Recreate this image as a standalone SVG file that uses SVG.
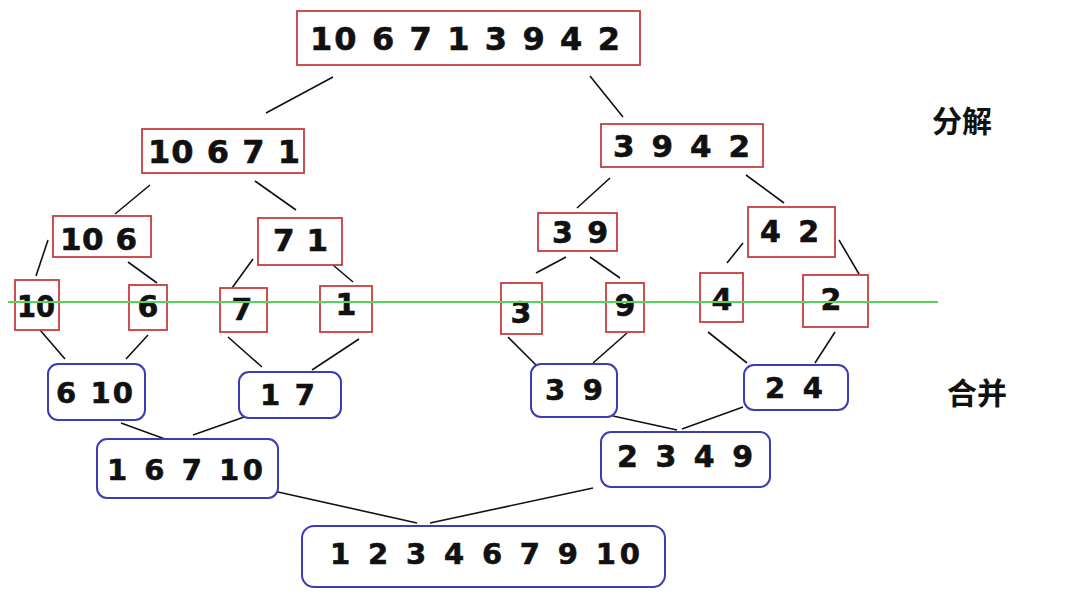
<svg xmlns="http://www.w3.org/2000/svg" width="1078" height="604" viewBox="0 0 1078 604">
<style>
.r{fill:#fff;stroke:#c83c3c;stroke-width:1.8}
.b{fill:#fff;stroke:#3c3cb4;stroke-width:2}
.t{font-family:"DejaVu Sans","Liberation Sans",sans-serif;font-weight:bold;fill:#111;stroke:#111;stroke-width:0.6}
.c{text-anchor:middle}
.lbl{font-family:"Noto Sans CJK SC","Noto Sans",sans-serif;font-weight:bold;font-size:30px;fill:#111}
.ln line{stroke:#111;stroke-width:1.6}
</style>
<rect width="1078" height="604" fill="#fff"/>
<g class="ln" id="connectors">
<line x1="333" y1="77" x2="266" y2="113"/>
<line x1="590" y1="76" x2="623" y2="117"/>
<line x1="150" y1="185" x2="115" y2="214"/>
<line x1="255" y1="181" x2="296" y2="210"/>
<line x1="48" y1="240" x2="36" y2="276"/>
<line x1="128" y1="262" x2="157" y2="283"/>
<line x1="253" y1="259" x2="232" y2="288"/>
<line x1="333" y1="265" x2="353" y2="282"/>
<line x1="610" y1="178" x2="577" y2="208"/>
<line x1="746" y1="175" x2="784" y2="203"/>
<line x1="566" y1="257" x2="536" y2="273"/>
<line x1="590" y1="257" x2="620" y2="278"/>
<line x1="743" y1="243" x2="727" y2="263"/>
<line x1="839" y1="240" x2="859" y2="274"/>
<line x1="40" y1="330" x2="65" y2="359"/>
<line x1="148" y1="335" x2="126" y2="359"/>
<line x1="228" y1="337" x2="262" y2="367"/>
<line x1="359" y1="339" x2="312" y2="370"/>
<line x1="508" y1="337" x2="540" y2="369"/>
<line x1="627" y1="333" x2="593" y2="363"/>
<line x1="708" y1="332" x2="747" y2="363"/>
<line x1="835" y1="332" x2="815" y2="363"/>
<line x1="121" y1="423" x2="165" y2="439"/>
<line x1="247" y1="416" x2="193" y2="435"/>
<line x1="613" y1="416" x2="677" y2="430"/>
<line x1="743" y1="407" x2="682" y2="429"/>
<line x1="278" y1="492" x2="417" y2="523"/>
<line x1="593" y1="488" x2="430" y2="523"/>
</g>
<g id="n-top"><rect class="r" x="297" y="11" width="343" height="54"/><text class="t" x="310" y="50" font-size="32" textLength="310" lengthAdjust="spacing">10 6 7 1 3 9 4 2</text></g>
<g id="n-l"><rect class="r" x="142" y="129" width="162" height="44"/><text class="t" x="148" y="163" font-size="32" textLength="152" lengthAdjust="spacing">10 6 7 1</text></g>
<g id="n-r"><rect class="r" x="601" y="124" width="162" height="43"/><text class="t" x="613" y="157" font-size="31" textLength="137" lengthAdjust="spacing">3 9 4 2</text></g>
<g id="n-ll"><rect class="r" x="53" y="216" width="98" height="41"/><text class="t" x="60" y="250" font-size="31" textLength="77" lengthAdjust="spacing">10 6</text></g>
<g id="n-lr"><rect class="r" x="258" y="218" width="84" height="47"/><text class="t" x="273" y="251" font-size="31" textLength="55" lengthAdjust="spacing">7 1</text></g>
<g id="n-rl"><rect class="r" x="538" y="213" width="79" height="38"/><text class="t" x="552" y="243" font-size="30" textLength="56" lengthAdjust="spacing">3 9</text></g>
<g id="n-rr"><rect class="r" x="748" y="207" width="87" height="50"/><text class="t" x="760" y="242" font-size="30" textLength="59" lengthAdjust="spacing">4 2</text></g>
<g id="leaf-10"><rect class="r" x="15" y="280" width="44" height="50"/><text class="t" x="17" y="317" font-size="31" textLength="38" lengthAdjust="spacingAndGlyphs">10</text></g>
<g id="leaf-6"><rect class="r" x="129" y="285" width="38" height="45"/><text class="t c" x="148" y="317" font-size="30">6</text></g>
<g id="leaf-7"><rect class="r" x="220" y="288" width="47" height="44"/><text class="t c" x="242" y="320" font-size="30">7</text></g>
<g id="leaf-1"><rect class="r" x="320" y="286" width="52" height="46"/><text class="t c" x="346" y="315" font-size="30">1</text></g>
<g id="leaf-3"><rect class="r" x="501" y="283" width="41" height="51"/><text class="t c" x="521" y="323" font-size="30">3</text></g>
<g id="leaf-9"><rect class="r" x="606" y="283" width="38" height="49"/><text class="t c" x="625" y="316" font-size="30">9</text></g>
<g id="leaf-4"><rect class="r" x="700" y="273" width="43" height="49"/><text class="t c" x="722" y="310" font-size="30">4</text></g>
<g id="leaf-2"><rect class="r" x="803" y="275" width="65" height="52"/><text class="t c" x="831" y="310" font-size="30">2</text></g>
<line id="divider" x1="8" y1="302" x2="938" y2="302" stroke="#5ad25a" stroke-width="1.8"/>
<g id="m-610"><rect class="b" x="48" y="364" width="97" height="56" rx="10"/><text class="t" x="56" y="403" font-size="29" textLength="77" lengthAdjust="spacing">6 10</text></g>
<g id="m-17"><rect class="b" x="239" y="372" width="102" height="46" rx="10"/><text class="t" x="260" y="405" font-size="29" textLength="55" lengthAdjust="spacing">1 7</text></g>
<g id="m-39"><rect class="b" x="531" y="364" width="86" height="53" rx="10"/><text class="t" x="545" y="400" font-size="29" textLength="58" lengthAdjust="spacing">3 9</text></g>
<g id="m-24"><rect class="b" x="744" y="365" width="104" height="45" rx="10"/><text class="t" x="765" y="398" font-size="29" textLength="58" lengthAdjust="spacing">2 4</text></g>
<g id="m-16710"><rect class="b" x="97" y="439" width="181" height="59" rx="10"/><text class="t" x="107" y="480" font-size="29" textLength="156" lengthAdjust="spacing">1 6 7 10</text></g>
<g id="m-2349"><rect class="b" x="601" y="432" width="169" height="55" rx="10"/><text class="t" x="617" y="467" font-size="30" textLength="136" lengthAdjust="spacing">2 3 4 9</text></g>
<g id="m-final"><rect class="b" x="302" y="526" width="363" height="61" rx="12"/><text class="t" x="330" y="564" font-size="29" textLength="310" lengthAdjust="spacing">1 2 3 4 6 7 9 10</text></g>
<text class="lbl" x="932" y="132">分解</text>
<text class="lbl" x="947" y="404">合并</text>
</svg>
